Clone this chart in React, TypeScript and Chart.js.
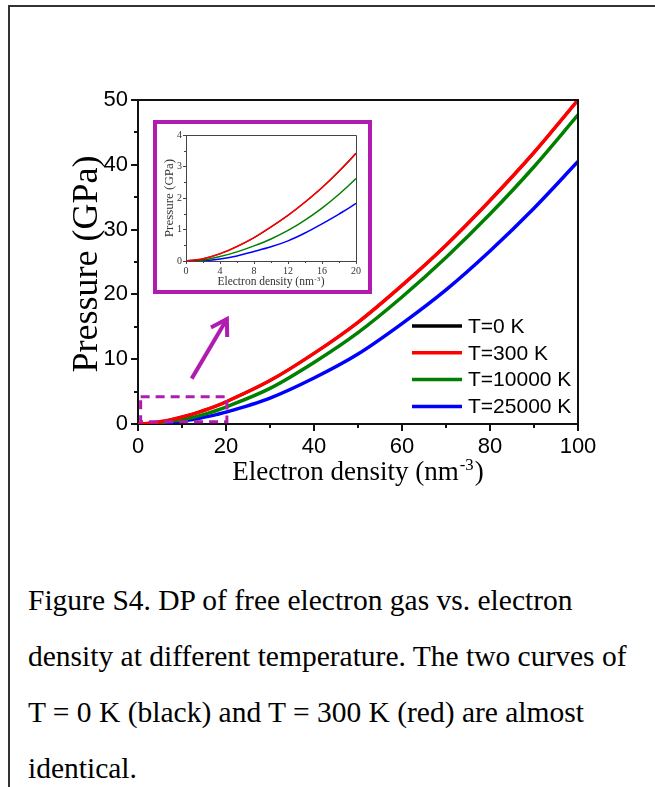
import React, { useEffect, useRef } from "react";
import { Chart, registerables } from "chart.js";

Chart.register(...registerables);

// ---- data ----
// Electron density (nm^-3)
const densityN = [0, 2, 4, 6, 8, 10, 12, 14, 16, 18, 20, 30, 40, 50, 60, 70, 80, 90, 100];
// Pressure (GPa)
const pressureT0 = [0, 0.07, 0.23, 0.46, 0.74, 1.08, 1.45, 1.87, 2.33, 2.85, 3.42, 6.7, 10.9, 15.7, 21.4, 27.6, 34.5, 41.9, 50.0];
const pressureT300 = [0, 0.07, 0.23, 0.46, 0.74, 1.08, 1.45, 1.87, 2.33, 2.85, 3.42, 6.7, 10.9, 15.7, 21.4, 27.6, 34.5, 41.9, 50.0];
const pressureT10000 = [0, 0.03, 0.14, 0.29, 0.48, 0.7, 0.97, 1.3, 1.68, 2.12, 2.62, 5.5, 9.5, 14.1, 19.6, 25.7, 32.4, 39.7, 47.7];
const pressureT25000 = [0, 0.01, 0.06, 0.16, 0.3, 0.45, 0.64, 0.89, 1.18, 1.49, 1.83, 4.0, 7.1, 10.8, 15.5, 20.7, 26.7, 33.3, 40.5];

const seriesLabels = ["T=0 K", "T=300 K", "T=10000 K", "T=25000 K"];
const seriesColors = ["#000000", "#ff0000", "#008000", "#0000ff"];
// drawing order: lower is drawn on top (red covers black)
const seriesOrder = [1, 0, 2, 3];
// relative line width (black sits fully under red)
const seriesWidthFactor = [0.8, 1, 1, 1];

const mainXTicks = [0, 20, 40, 60, 80, 100];
const mainXMinor = [10, 30, 50, 70, 90];
const mainYTicks = [0, 10, 20, 30, 40, 50];
const mainYMinor = [5, 15, 25, 35, 45];
const insetXTicks = [0, 4, 8, 12, 16, 20];
const insetXMinor = [2, 6, 10, 14, 18];
const insetYTicks = [0, 1, 2, 3, 4];
const insetYMinor = [0.5, 1.5, 2.5, 3.5];

// zoom-region marker and arrow, in data units of the main chart
const zoomBoxN = [0.6, 20.2];
const zoomBoxP = [0.35, 4.2];
const arrowFrom = [12.2, 7.0];
const arrowTo = [20.2, 16.2];

const captionLines = [
  "Figure S4. DP of free electron gas vs. electron",
  "density at different temperature. The two curves of",
  "T = 0 K (black) and T = 300 K (red) are almost",
  "identical.",
];

// ---- styles ----
const SANS = "'Liberation Sans', Arial, sans-serif";
const SERIF = "'Liberation Serif', 'Times New Roman', serif";
const AXIS = "#111";
const PURPLE = "#b01cb0";
const seriesValues = [pressureT0, pressureT300, pressureT10000, pressureT25000];

function makeDatasets(width: number) {
  return seriesValues.map((vals, i) => ({
    label: seriesLabels[i],
    data: densityN.map((n, j) => ({ x: n, y: vals[j] })),
    borderColor: seriesColors[i],
    backgroundColor: seriesColors[i],
    borderWidth: width * seriesWidthFactor[i],
    pointRadius: 0,
    order: seriesOrder[i],
    cubicInterpolationMode: "monotone" as const,
    fill: false,
  }));
}

function drawXTitle(ctx: CanvasRenderingContext2D, cx: number, baseY: number, size: number, color: string) {
  const main = "Electron density (nm";
  const sup = "-3";
  const close = ")";
  const supSize = size * 0.62;
  ctx.fillStyle = color;
  ctx.textBaseline = "alphabetic";
  ctx.textAlign = "left";
  ctx.font = `${size}px ${SERIF}`;
  const w1 = ctx.measureText(main).width;
  const w3 = ctx.measureText(close).width;
  ctx.font = `${supSize}px ${SERIF}`;
  const w2 = ctx.measureText(sup).width;
  const total = w1 + w2 + w3 + size * 0.08;
  const x0 = cx - total / 2;
  ctx.font = `${size}px ${SERIF}`;
  ctx.fillText(main, x0, baseY);
  ctx.font = `${supSize}px ${SERIF}`;
  ctx.fillText(sup, x0 + w1 + size * 0.04, baseY - size * 0.38);
  ctx.font = `${size}px ${SERIF}`;
  ctx.fillText(close, x0 + w1 + w2 + size * 0.08, baseY);
}

function drawYTitle(ctx: CanvasRenderingContext2D, baseX: number, cy: number, size: number, color: string) {
  ctx.save();
  ctx.translate(baseX, cy);
  ctx.rotate(-Math.PI / 2);
  ctx.font = `${size}px ${SERIF}`;
  ctx.fillStyle = color;
  ctx.textAlign = "center";
  ctx.textBaseline = "alphabetic";
  ctx.fillText("Pressure (GPa)", 0, 0);
  ctx.restore();
}

const mainDecor = {
  id: "mainDecor",
  afterDatasetsDraw(chart: any) {
    const { ctx, chartArea: a } = chart;
    const xs = chart.scales.x;
    const ys = chart.scales.y;
    ctx.save();
    // top and right frame
    ctx.strokeStyle = AXIS;
    ctx.lineWidth = 2;
    ctx.beginPath();
    ctx.moveTo(a.left, Math.round(a.top));
    ctx.lineTo(Math.round(a.right), Math.round(a.top));
    ctx.lineTo(Math.round(a.right), a.bottom);
    ctx.stroke();
    // minor ticks
    ctx.beginPath();
    mainXMinor.forEach((v) => {
      const px = Math.round(xs.getPixelForValue(v));
      ctx.moveTo(px, a.bottom);
      ctx.lineTo(px, a.bottom + 4);
    });
    mainYMinor.forEach((v) => {
      const py = Math.round(ys.getPixelForValue(v));
      ctx.moveTo(a.left, py);
      ctx.lineTo(a.left - 4, py);
    });
    ctx.stroke();
    // dashed zoom box
    ctx.strokeStyle = PURPLE;
    ctx.lineWidth = 3;
    ctx.setLineDash([9, 6]);
    const bx0 = xs.getPixelForValue(zoomBoxN[0]);
    const bx1 = xs.getPixelForValue(zoomBoxN[1]);
    const by0 = ys.getPixelForValue(zoomBoxP[0]);
    const by1 = ys.getPixelForValue(zoomBoxP[1]);
    ctx.strokeRect(bx0, by1, bx1 - bx0, by0 - by1);
    ctx.setLineDash([]);
    // arrow
    const fx = xs.getPixelForValue(arrowFrom[0]);
    const fy = ys.getPixelForValue(arrowFrom[1]);
    const tx = xs.getPixelForValue(arrowTo[0]);
    const ty = ys.getPixelForValue(arrowTo[1]);
    const ang = Math.atan2(ty - fy, tx - fx);
    ctx.lineWidth = 4;
    ctx.beginPath();
    ctx.moveTo(fx, fy);
    ctx.lineTo(tx - 2 * Math.cos(ang), ty - 2 * Math.sin(ang));
    ctx.stroke();
    const hl = 18;
    const sp = 0.55;
    ctx.beginPath();
    ctx.moveTo(tx - hl * Math.cos(ang - sp), ty - hl * Math.sin(ang - sp));
    ctx.lineTo(tx, ty);
    ctx.lineTo(tx - hl * Math.cos(ang + sp), ty - hl * Math.sin(ang + sp));
    ctx.stroke();
    // legend
    ctx.font = `21px ${SANS}`;
    ctx.textBaseline = "middle";
    ctx.textAlign = "left";
    chart.data.datasets.forEach((ds: any, i: number) => {
      const yy = a.top + 226 + i * 26.8;
      ctx.strokeStyle = ds.borderColor;
      ctx.lineWidth = 3.5;
      ctx.beginPath();
      ctx.moveTo(a.right - 166, yy);
      ctx.lineTo(a.right - 116, yy);
      ctx.stroke();
      ctx.fillStyle = "#000";
      ctx.fillText(ds.label, a.right - 110, yy + 1);
    });
    // axis titles
    drawXTitle(ctx, (a.left + a.right) / 2, a.bottom + 56, 27, "#000");
    drawYTitle(ctx, 97, (a.top + a.bottom) / 2 + 2, 36, "#000");
    ctx.restore();
  },
};

const insetDecor = {
  id: "insetDecor",
  afterDatasetsDraw(chart: any) {
    const { ctx, chartArea: a } = chart;
    const xs = chart.scales.x;
    const ys = chart.scales.y;
    ctx.save();
    ctx.strokeStyle = "#444";
    ctx.lineWidth = 1;
    ctx.beginPath();
    ctx.moveTo(a.left, Math.round(a.top) + 0.5);
    ctx.lineTo(Math.round(a.right) + 0.5, Math.round(a.top) + 0.5);
    ctx.lineTo(Math.round(a.right) + 0.5, a.bottom);
    ctx.stroke();
    ctx.beginPath();
    insetXMinor.forEach((v) => {
      const px = Math.round(xs.getPixelForValue(v)) + 0.5;
      ctx.moveTo(px, a.bottom);
      ctx.lineTo(px, a.bottom + 2);
    });
    insetYMinor.forEach((v) => {
      const py = Math.round(ys.getPixelForValue(v)) + 0.5;
      ctx.moveTo(a.left, py);
      ctx.lineTo(a.left - 2, py);
    });
    ctx.stroke();
    drawXTitle(ctx, (a.left + a.right) / 2, a.bottom + 24, 11.5, "#333");
    drawYTitle(ctx, 16, (a.top + a.bottom) / 2, 13, "#333");
    ctx.restore();
  },
};

function scaleOpts(min: number, max: number, ticks: number[], fit: (s: any) => void, o: any) {
  return {
    type: "linear" as const,
    min,
    max,
    afterBuildTicks: (s: any) => {
      s.ticks = ticks.map((v) => ({ value: v }));
    },
    afterFit: fit,
    ticks: {
      font: o.font,
      color: o.color,
      padding: o.padding,
      maxRotation: 0,
      autoSkip: false,
    },
    grid: {
      drawOnChartArea: false,
      drawTicks: true,
      tickLength: o.tickLength,
      tickWidth: o.lineWidth,
      tickColor: o.axisColor,
      color: o.axisColor,
      lineWidth: o.lineWidth,
    },
    border: { display: true, color: o.axisColor, width: o.lineWidth },
  };
}

function MainChart() {
  const ref = useRef<HTMLCanvasElement>(null);
  useEffect(() => {
    if (!ref.current) return;
    const o = { font: { family: SANS, size: 22 }, color: "#000", padding: 3, tickLength: 7, lineWidth: 2, axisColor: AXIS };
    const chart = new Chart(ref.current, {
      type: "line",
      data: { datasets: makeDatasets(3.5) as any },
      options: {
        responsive: false,
        maintainAspectRatio: false,
        animation: false,
        layout: { padding: { left: 0, right: 77, top: 100, bottom: 0 } },
        plugins: { legend: { display: false }, tooltip: { enabled: false } },
        scales: {
          x: scaleOpts(0, 100, mainXTicks, (s: any) => { s.height = 116; }, o),
          y: scaleOpts(0, 50, mainYTicks, (s: any) => { s.width = 138; }, o),
        },
      } as any,
      plugins: [mainDecor],
    });
    return () => chart.destroy();
  }, []);
  return <canvas ref={ref} width={655} height={540} style={{ position: "absolute", left: 0, top: 0 }} />;
}

function InsetChart() {
  const ref = useRef<HTMLCanvasElement>(null);
  useEffect(() => {
    if (!ref.current) return;
    const o = { font: { family: SERIF, size: 10 }, color: "#333", padding: 1, tickLength: 3, lineWidth: 1, axisColor: "#444" };
    const chart = new Chart(ref.current, {
      type: "line",
      data: { datasets: makeDatasets(1.5) as any },
      options: {
        responsive: false,
        maintainAspectRatio: false,
        animation: false,
        layout: { padding: { left: 0, right: 12, top: 11, bottom: 0 } },
        plugins: { legend: { display: false }, tooltip: { enabled: false } },
        scales: {
          x: scaleOpts(0, 20, insetXTicks, (s: any) => { s.height = 29; }, o),
          y: scaleOpts(0, 4, insetYTicks, (s: any) => { s.width = 29; }, o),
        },
      } as any,
      plugins: [insetDecor],
    });
    return () => chart.destroy();
  }, []);
  return <canvas ref={ref} width={211} height={166} style={{ display: "block" }} />;
}

export default function App() {
  return (
    <div style={{ position: "absolute", left: 0, top: 0, width: 655, height: 787, overflow: "hidden", background: "#fff" }}>
      <div
        style={{
          position: "absolute",
          left: 8,
          top: 5,
          right: 0,
          bottom: 0,
          borderLeft: "2px solid #333",
          borderTop: "2px solid #333",
        }}
      />
      <MainChart />
      <div
        style={{
          position: "absolute",
          left: 153,
          top: 120,
          width: 211,
          height: 166,
          border: `4px solid ${PURPLE}`,
          background: "#fff",
        }}
      >
        <InsetChart />
      </div>
      <div
        style={{
          position: "absolute",
          left: 28,
          top: 572,
          fontFamily: SERIF,
          fontSize: "29.5px",
          lineHeight: "56px",
          color: "#000",
          whiteSpace: "nowrap",
        }}
      >
        {captionLines.map((l, i) => (
          <div key={i}>{l}</div>
        ))}
      </div>
    </div>
  );
}
